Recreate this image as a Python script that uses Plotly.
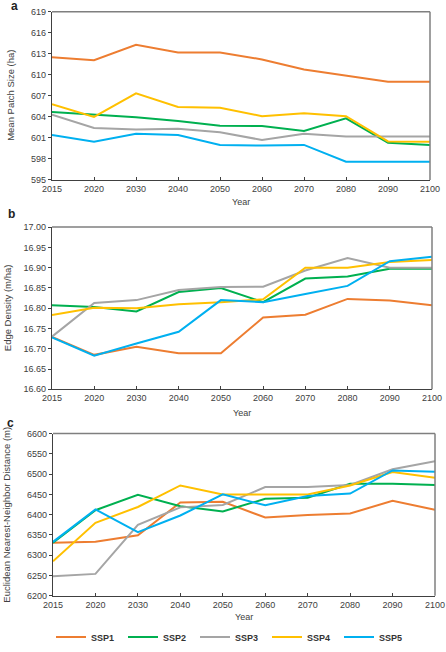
import plotly.graph_objects as go

years = ["2015", "2020", "2030", "2040", "2050", "2060", "2070", "2080", "2090", "2100"]
series_names = ["SSP1", "SSP2", "SSP3", "SSP4", "SSP5"]
colors = ["#ED7D31", "#00B050", "#A5A5A5", "#FFC000", "#00B0F0"]

# Panel a: Mean Patch Size (ha)
mps_ssp1 = [612.5, 612.1, 614.3, 613.2, 613.2, 612.2, 610.75, 609.9, 609.0, 609.0]
mps_ssp2 = [604.7, 604.3, 603.95, 603.4, 602.75, 602.7, 602.0, 603.8, 600.3, 600.0]
mps_ssp3 = [604.3, 602.4, 602.2, 602.3, 601.8, 600.7, 601.6, 601.2, 601.2, 601.2]
mps_ssp4 = [605.8, 604.0, 607.35, 605.4, 605.3, 604.1, 604.5, 604.1, 600.5, 600.45]
mps_ssp5 = [601.4, 600.45, 601.6, 601.4, 600.0, 599.9, 600.0, 597.6, 597.6, 597.6]

# Panel b: Edge Density (m/ha)
ed_ssp1 = [16.729, 16.685, 16.705, 16.689, 16.689, 16.777, 16.784, 16.823, 16.819, 16.807]
ed_ssp2 = [16.807, 16.803, 16.792, 16.840, 16.850, 16.815, 16.873, 16.878, 16.897, 16.897]
ed_ssp3 = [16.730, 16.813, 16.820, 16.845, 16.852, 16.853, 16.893, 16.924, 16.900, 16.900]
ed_ssp4 = [16.783, 16.801, 16.800, 16.810, 16.815, 16.822, 16.900, 16.900, 16.914, 16.919]
ed_ssp5 = [16.728, 16.683, 16.713, 16.742, 16.820, 16.815, 16.835, 16.855, 16.916, 16.927]

# Panel c: Euclidean Nearest-Neighbor Distance (m)
enn_ssp1 = [6331, 6333, 6349, 6430, 6432, 6393, 6399, 6403, 6434, 6412]
enn_ssp2 = [6331, 6411, 6449, 6421, 6408, 6439, 6442, 6476, 6476, 6473]
enn_ssp3 = [6248, 6254, 6375, 6418, 6424, 6468, 6468, 6473, 6512, 6532]
enn_ssp4 = [6285, 6380, 6419, 6472, 6450, 6450, 6450, 6472, 6505, 6491]
enn_ssp5 = [6333, 6413, 6357, 6398, 6450, 6423, 6446, 6452, 6509, 6506]

panels = [
    dict(data=[mps_ssp1, mps_ssp2, mps_ssp3, mps_ssp4, mps_ssp5],
         title="Mean Patch Size (ha)", rng=[595, 619], dtick=3, fmt="d", label="a"),
    dict(data=[ed_ssp1, ed_ssp2, ed_ssp3, ed_ssp4, ed_ssp5],
         title="Edge Density (m/ha)", rng=[16.60, 17.00], dtick=0.05, fmt=".2f", label="b"),
    dict(data=[enn_ssp1, enn_ssp2, enn_ssp3, enn_ssp4, enn_ssp5],
         title="Euclidean Nearest-Neighbor Distance (m)", rng=[6200, 6600], dtick=50, fmt="d", label="c"),
]

W, H = 446, 652
# pixel layout (top, bottom, left, right)
boxes = [(12, 183, 52, 430), (231, 396, 52, 432), (441, 606, 53, 435)]
label_pos = [(9, 6), (6, 218), (5, 430)]
ytitle_x = [11, 7, 7]
xtitle_y = [205, 420, 628]

fig = go.Figure()
font_family = "Liberation Sans, Arial, sans-serif"
tick_color = "#404040"
title_color = "#404040"

for i, p in enumerate(panels):
    xa = "x" if i == 0 else f"x{i+1}"
    ya = "y" if i == 0 else f"y{i+1}"
    for j, name in enumerate(series_names):
        fig.add_trace(go.Scatter(
            x=years, y=p["data"][j], mode="lines", name=f"<b>{name}</b>",
            line=dict(color=colors[j], width=2),
            showlegend=(i == 0), xaxis=xa, yaxis=ya, legendgroup=name,
        ))
    top, bot, left, right = boxes[i]
    xdom = [left / W, right / W]
    ydom = [1 - bot / H, 1 - top / H]
    xkey = "xaxis" if i == 0 else f"xaxis{i+1}"
    ykey = "yaxis" if i == 0 else f"yaxis{i+1}"
    fig.update_layout(**{
        xkey: dict(domain=xdom, anchor=ya, type="category", range=[0, 9], automargin=False,
                   showgrid=False, zeroline=False, showline=True,
                   linecolor="#404040", linewidth=1.2,
                   ticks="inside", ticklen=3, tickcolor="#404040",
                   tickfont=dict(size=9, color=tick_color, family=font_family)),
        ykey: dict(domain=ydom, anchor=xa, range=p["rng"], dtick=p["dtick"], automargin=False,
                   tick0=p["rng"][0], tickformat=p["fmt"],
                   showgrid=False, zeroline=False, showline=True,
                   linecolor="#404040", linewidth=1.2,
                   ticks="outside", ticklen=3, tickcolor="#404040",
                   tickfont=dict(size=9, color=tick_color, family=font_family)),
    })
    # top and right frame lines
    fig.add_shape(type="line", xref=f"{xa} domain", yref=f"{ya} domain",
                  x0=0, x1=1, y0=1, y1=1, line=dict(color="#7F7F7F", width=1.5))
    fig.add_shape(type="line", xref=f"{xa} domain", yref=f"{ya} domain",
                  x0=1, x1=1, y0=0, y1=1, line=dict(color="#7F7F7F", width=1.5))
    # axis titles
    fig.add_annotation(text=p["title"], xref="paper", yref="paper",
                       x=ytitle_x[i] / W, y=1 - (top + bot) / 2 / H,
                       xanchor="center", yanchor="middle", textangle=-90, showarrow=False,
                       font=dict(size=9.5, color=title_color, family=font_family))
    fig.add_annotation(text="Year", xref="paper", yref="paper",
                       x=(left + right) / 2 / W, y=1 - xtitle_y[i] / H,
                       xanchor="center", yanchor="middle", showarrow=False,
                       font=dict(size=9, color=title_color, family=font_family))
    lx, ly = label_pos[i]
    fig.add_annotation(text=f"<b>{p['label']}</b>", xref="paper", yref="paper",
                       x=lx / W, y=1 - ly / H, xanchor="left", yanchor="middle",
                       showarrow=False, font=dict(size=12, color="#222222", family=font_family))

fig.update_layout(
    width=W, height=H,
    margin=dict(l=0, r=0, t=0, b=0),
    paper_bgcolor="white", plot_bgcolor="white",
    showlegend=True,
    legend=dict(orientation="h", x=51 / W, xanchor="left", y=1 - 648 / H, yanchor="middle",
                entrywidth=27, entrywidthmode="pixels", itemwidth=30,
                font=dict(size=9, color="#333333", family=font_family),
                bgcolor="rgba(0,0,0,0)", tracegroupgap=0),
)

fig.write_html("out.html", config={"displayModeBar": False},
               post_script="document.body.style.margin='0';document.body.style.overflow='hidden';")
